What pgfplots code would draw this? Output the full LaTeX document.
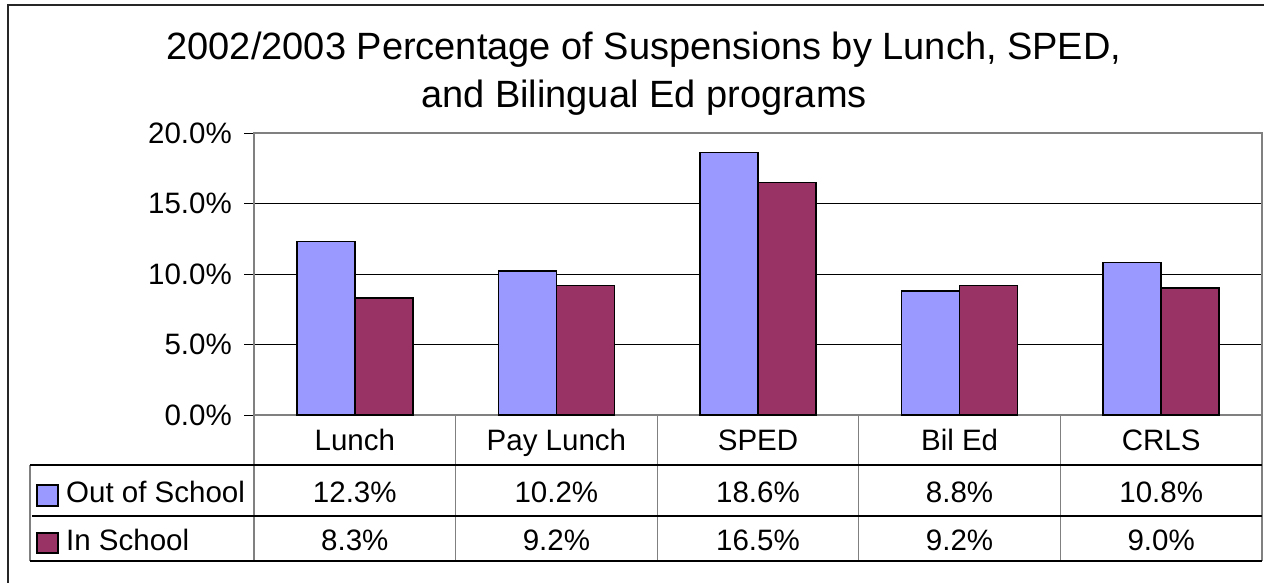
\documentclass[border=0pt]{standalone}
\usepackage{fontspec}
\setmainfont{Liberation Sans}
\usepackage{pgfplots}
\pgfplotsset{compat=1.18}
\definecolor{outcol}{HTML}{9999FF}
\definecolor{incol}{HTML}{993366}
\definecolor{xlgray}{HTML}{808080}
\begin{document}
\begin{tikzpicture}
\begin{scope}[x=1bp,y=-1bp]
  \useasboundingbox (0,0) rectangle (1264,583);
  % outer chart frame
  \draw[line width=1.5bp, black!85] (8,600) -- (8,5) -- (1280,5);
  % title
  \node[anchor=base, inner sep=0pt, font=\fontsize{38bp}{46bp}\selectfont] at (644,60)
    {2002/2003 Percentage of Suspensions by Lunch, SPED,};
  \node[anchor=base, inner sep=0pt, font=\fontsize{38bp}{46bp}\selectfont] at (644,108)
    {and Bilingual Ed programs};
\end{scope}

\begin{axis}[
  at={(254bp,-415bp)}, anchor=south west,
  width=1008bp, height=282bp, scale only axis,
  xmin=-0.5, xmax=4.5, ymin=0, ymax=20,
  ybar=0pt, bar width=58bp,
  xtick=\empty,
  ytick={0,5,10,15,20},
  yticklabels={0.0\%,5.0\%,10.0\%,15.0\%,20.0\%},
  tick pos=left, tick align=outside,
  major tick length=10bp,
  tick style={black, line width=1bp},
  ymajorgrids,
  grid style={black, line width=1bp},
  axis line style={xlgray, line width=1.3bp},
  yticklabel style={font=\fontsize{29.5bp}{33bp}\selectfont, inner sep=2bp, xshift=-10bp},
  /pgf/number format/assume math mode=true,
]
\addplot[fill=outcol, draw=black, line width=1.5bp]
  coordinates {(0,12.3) (1,10.2) (2,18.6) (3,8.8) (4,10.8)};
\addplot[fill=incol, draw=black, line width=1.5bp]
  coordinates {(0,8.3) (1,9.2) (2,16.5) (3,9.2) (4,9.0)};
\end{axis}

\begin{scope}[x=1bp,y=-1bp, every node/.style={anchor=base, inner sep=0pt, font=\fontsize{29.5bp}{33bp}\selectfont}]
  % data table grid
  \foreach \xx in {254,455.6,657.2,858.8,1060.4,1262}
    \draw[xlgray, line width=1.3bp] (\xx,415) -- (\xx,561);
  \draw[xlgray, line width=1.3bp] (30,465) -- (30,561);
  \draw[black, line width=1.1bp] (30,465) -- (1262,465);
  \draw[black, line width=1.1bp] (32,516) -- (1262,516);
  \draw[black, line width=1.1bp] (30,561) -- (1262,561);
  % category names
  \node at (354.8,450) {Lunch};
  \node at (556.4,450) {Pay Lunch};
  \node at (758,450) {SPED};
  \node at (959.6,450) {Bil Ed};
  \node at (1161.2,450) {CRLS};
  % legend keys
  \draw[fill=outcol, draw=black, line width=1.5bp] (37,485) rectangle (58,506);
  \draw[fill=incol, draw=black, line width=1.5bp] (37,533) rectangle (58,553);
  \node[anchor=base west] at (66,502) {Out of School};
  \node[anchor=base west] at (66,550) {In School};
  % values
  \node at (354.8,502) {12.3\%};
  \node at (556.4,502) {10.2\%};
  \node at (758,502) {18.6\%};
  \node at (959.6,502) {8.8\%};
  \node at (1161.2,502) {10.8\%};
  \node at (354.8,550) {8.3\%};
  \node at (556.4,550) {9.2\%};
  \node at (758,550) {16.5\%};
  \node at (959.6,550) {9.2\%};
  \node at (1161.2,550) {9.0\%};
\end{scope}
\end{tikzpicture}
\end{document}
